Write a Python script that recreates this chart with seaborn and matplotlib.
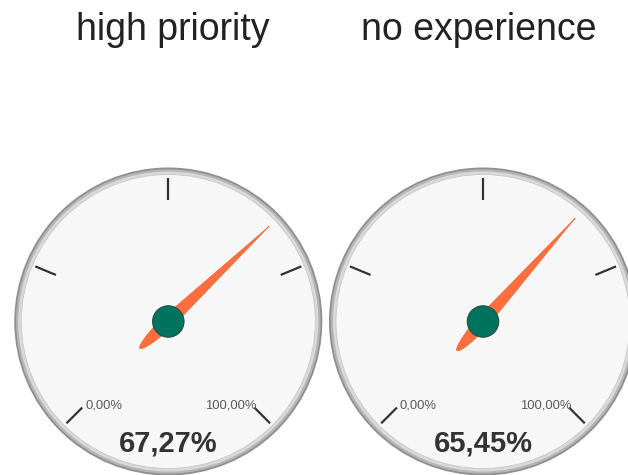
import numpy as np
import matplotlib
matplotlib.use("Agg")
import matplotlib.pyplot as plt
from matplotlib.patches import Circle, Polygon
import seaborn as sns

# data
titles = ["high priority", "no experience"]
values = [67.27, 65.45]
value_labels = ["67,27%", "65,45%"]
min_label = "0,00%"
max_label = "100,00%"
major_ticks = [0, 25, 50, 75, 100]

# layout (pixels, y downwards)
W, H = 628, 475
centers = [(168.3, 321.5), (483.0, 321.5)]
title_x = [172.5, 479.0]
R = 154.0

sns.set_theme(style="white")
plt.rcParams['font.family'] = ['Liberation Sans', 'DejaVu Sans']

fig = plt.figure(figsize=(W / 100, H / 100), dpi=100)
ax = fig.add_axes([0, 0, 1, 1])
ax.set_xlim(0, W)
ax.set_ylim(H, 0)
ax.set_aspect('equal')
ax.axis('off')


def angle(v):
    # 0% at lower left, 100% at lower right, 270 degree sweep
    return np.deg2rad(225 - 270 * v / 100.0)


def needle_shape(cx, cy, v):
    th = angle(v)
    d = np.array([np.cos(th), -np.sin(th)])
    n = np.array([np.sin(th), np.cos(th)])
    tip, tail, hw = 0.9 * R, 0.255 * R, 6.5
    u_front = np.linspace(0, tip, 40)
    w_front = hw * (1 - u_front / tip)
    u_tail = np.linspace(0, -tail, 30)
    w_tail = hw * np.cos(np.pi / 2 * np.abs(u_tail) / tail) ** 0.5
    side1 = [(u, w) for u, w in zip(u_front[::-1], w_front[::-1])]
    side1 += [(u, w) for u, w in zip(u_tail, w_tail)]
    side2 = [(u, -w) for u, w in zip(u_tail[::-1], w_tail[::-1])]
    side2 += [(u, -w) for u, w in zip(u_front, w_front)]
    pts = [(cx + u * d[0] + w * n[0], cy + u * d[1] + w * n[1]) for u, w in side1 + side2]
    return pts


for (cx, cy), title, v, vl, tx in zip(centers, titles, values, value_labels, title_x):
    # bezel
    ax.add_patch(Circle((cx, cy), R, facecolor='#8f8f8f', edgecolor='none', zorder=1))
    ax.add_patch(Circle((cx, cy), R - 1.8, facecolor='#b5b5b5', edgecolor='none', zorder=1))
    ax.add_patch(Circle((cx, cy), R - 4.0, facecolor='#d9d9d9', edgecolor='none', zorder=1))
    ax.add_patch(Circle((cx, cy), R - 7.0, facecolor='#f7f7f7', edgecolor='#c8c8c8',
                        linewidth=0.6, zorder=1))

    # major ticks
    for t in major_ticks:
        th = angle(t)
        r0, r1 = 0.79 * R, 0.935 * R
        ax.plot([cx + r0 * np.cos(th), cx + r1 * np.cos(th)],
                [cy - r0 * np.sin(th), cy - r1 * np.sin(th)],
                color='#333333', linewidth=1.6, solid_capstyle='butt', zorder=2)

    # min / max labels
    th0, th1 = angle(0), angle(100)
    ax.text(cx + 0.79 * R * np.cos(th0) + 3, cy - 0.79 * R * np.sin(th0) - 2.5, min_label,
            ha='left', va='center', fontsize=9.4, color='#5a5a5a', zorder=3)
    ax.text(cx + 0.79 * R * np.cos(th1) + 2, cy - 0.79 * R * np.sin(th1) - 2.5, max_label,
            ha='right', va='center', fontsize=9.4, color='#5a5a5a', zorder=3)

    # value text
    ax.text(cx, cy + 130, vl, ha='center', va='baseline', fontsize=21,
            fontweight='bold', color='#333333', zorder=3)

    # needle and hub
    ax.add_patch(Polygon(needle_shape(cx, cy, v), closed=True, facecolor='#FF6E3C',
                         edgecolor='#e8602f', linewidth=0.4, zorder=4))
    ax.add_patch(Circle((cx, cy), 15.7, facecolor='#00735F', edgecolor='#1f4f45',
                        linewidth=0.8, zorder=5))

    # title
    ax.text(tx, 40, title, ha='center', va='baseline', fontsize=27, color='#222222')

fig.savefig("out.png", dpi=100, facecolor='white')
